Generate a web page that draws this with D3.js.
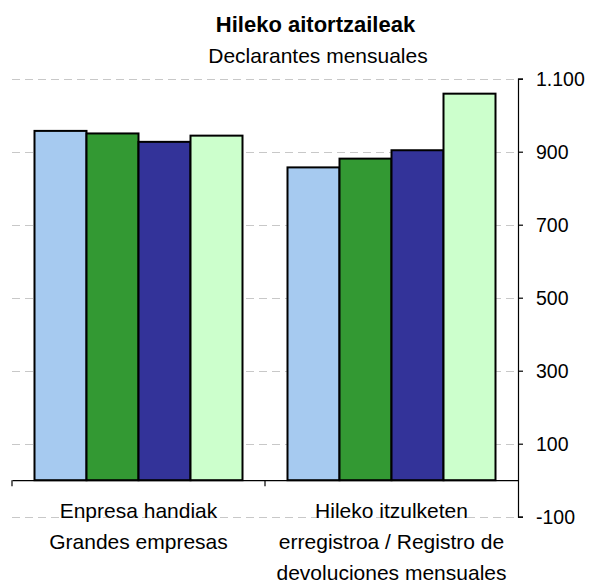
<!DOCTYPE html>
<html>
<head>
<meta charset="utf-8">
<script src="https://cdn.jsdelivr.net/npm/d3@7"></script>
<style>
  html, body { margin: 0; padding: 0; background: #fff; }
  svg { display: block; font-family: "Liberation Sans", Arial, sans-serif; }
</style>
</head>
<body>
<svg id="chart" width="589" height="583"></svg>
<script>
// ---- data ----
const categories = ["Enpresa handiak", "Hileko itzulketen"];
const categoryLines = [
  ["Enpresa handiak", "Grandes empresas"],
  ["Hileko itzulketen", "erregistroa / Registro de", "devoluciones mensuales"]
];
const seriesKeys = ["s1", "s2", "s3", "s4"];
const series1 = [957, 857];
const series2 = [950, 881];
const series3 = [927, 904];
const series4 = [944, 1059];
const seriesValues = [series1, series2, series3, series4];
const seriesColors = ["#a6caf0", "#339933", "#333399", "#ccffcc"];
const yTicks = [-100, 100, 300, 500, 700, 900, 1100];
const titleText = "Hileko aitortzaileak";
const subtitleText = "Declarantes mensuales";

// ---- layout ----
const svg = d3.select("#chart");
const plotLeft = 12, plotRight = 518;
const yTop = 78.7, yBottom = 516.7;

const x0 = d3.scaleBand().domain(categories).range([plotLeft, plotRight]).padding(0);
const x1 = d3.scaleBand().domain(seriesKeys).range([22.5, 230.5]).padding(0);
const y = d3.scaleLinear().domain([-100, 1100]).range([yBottom, yTop]);

const locale = d3.formatLocale({ decimal: ",", thousands: ".", grouping: [3], currency: ["", "€"], minus: "-" });
const fmt = locale.format(",d");

// title
svg.append("text").attr("x", 315.5).attr("y", 31.5).attr("text-anchor", "middle")
  .attr("font-size", 22).attr("font-weight", "bold").attr("fill", "#000").text(titleText);
svg.append("text").attr("x", 318).attr("y", 63).attr("text-anchor", "middle")
  .attr("font-size", 21).attr("fill", "#000").text(subtitleText);

// gridlines
svg.append("g").selectAll("line").data(yTicks).join("line")
  .attr("x1", plotLeft).attr("x2", plotRight - 4)
  .attr("y1", d => Math.round(y(d)) + 0.5).attr("y2", d => Math.round(y(d)) + 0.5)
  .attr("stroke", "#c8c8c8").attr("stroke-width", 1).attr("stroke-dasharray", "8,5");

// bars
const groups = svg.append("g").selectAll("g").data(categories).join("g")
  .attr("transform", d => `translate(${x0(d)},0)`);
groups.selectAll("rect")
  .data((c, ci) => seriesKeys.map((k, si) => ({ key: k, value: seriesValues[si][ci], color: seriesColors[si] })))
  .join("rect")
  .attr("x", d => x1(d.key))
  .attr("width", x1.bandwidth())
  .attr("y", d => y(d.value))
  .attr("height", d => y(0) - y(d.value))
  .attr("fill", d => d.color)
  .attr("stroke", "#000")
  .attr("stroke-width", 2);

// x axis baseline with ticks at category boundaries
const xAxis = d3.axisBottom(x0).tickSize(0).tickFormat("");
const xg = svg.append("g").attr("transform", `translate(0,${y(0)})`).call(xAxis);
xg.select(".domain").attr("stroke", "#000").attr("stroke-width", 1.2);
xg.selectAll(".tick").remove();
const boundaries = categories.map(c => x0(c));
xg.selectAll("line.bnd").data(boundaries).join("line").attr("class", "bnd")
  .attr("x1", d => d).attr("x2", d => d).attr("y1", 0).attr("y2", 6)
  .attr("stroke", "#000").attr("stroke-width", 1.2);

// category labels
const labelG = svg.append("g");
categories.forEach((c, i) => {
  const cx = x0(c) + x0.bandwidth() / 2;
  labelG.append("text").attr("text-anchor", "middle").attr("font-size", 21).attr("fill", "#000")
    .selectAll("tspan").data(categoryLines[i]).join("tspan")
    .attr("x", cx).attr("y", (d, j) => 518 + j * 31).text(d => d);
});

// right y axis
const yAxis = d3.axisRight(y).tickValues(yTicks).tickFormat(fmt).tickSize(5).tickPadding(13);
const yg = svg.append("g").attr("transform", `translate(${plotRight},0)`).call(yAxis);
yg.select(".domain").attr("stroke", "#000").attr("stroke-width", 1.2);
yg.selectAll(".tick line").attr("stroke", "#000").attr("stroke-width", 1.2);
yg.selectAll(".tick text").attr("font-size", 19.5).attr("font-family", "'Liberation Sans', Arial, sans-serif")
  .attr("fill", "#000").attr("dy", "0.36em");
</script>
</body>
</html>
